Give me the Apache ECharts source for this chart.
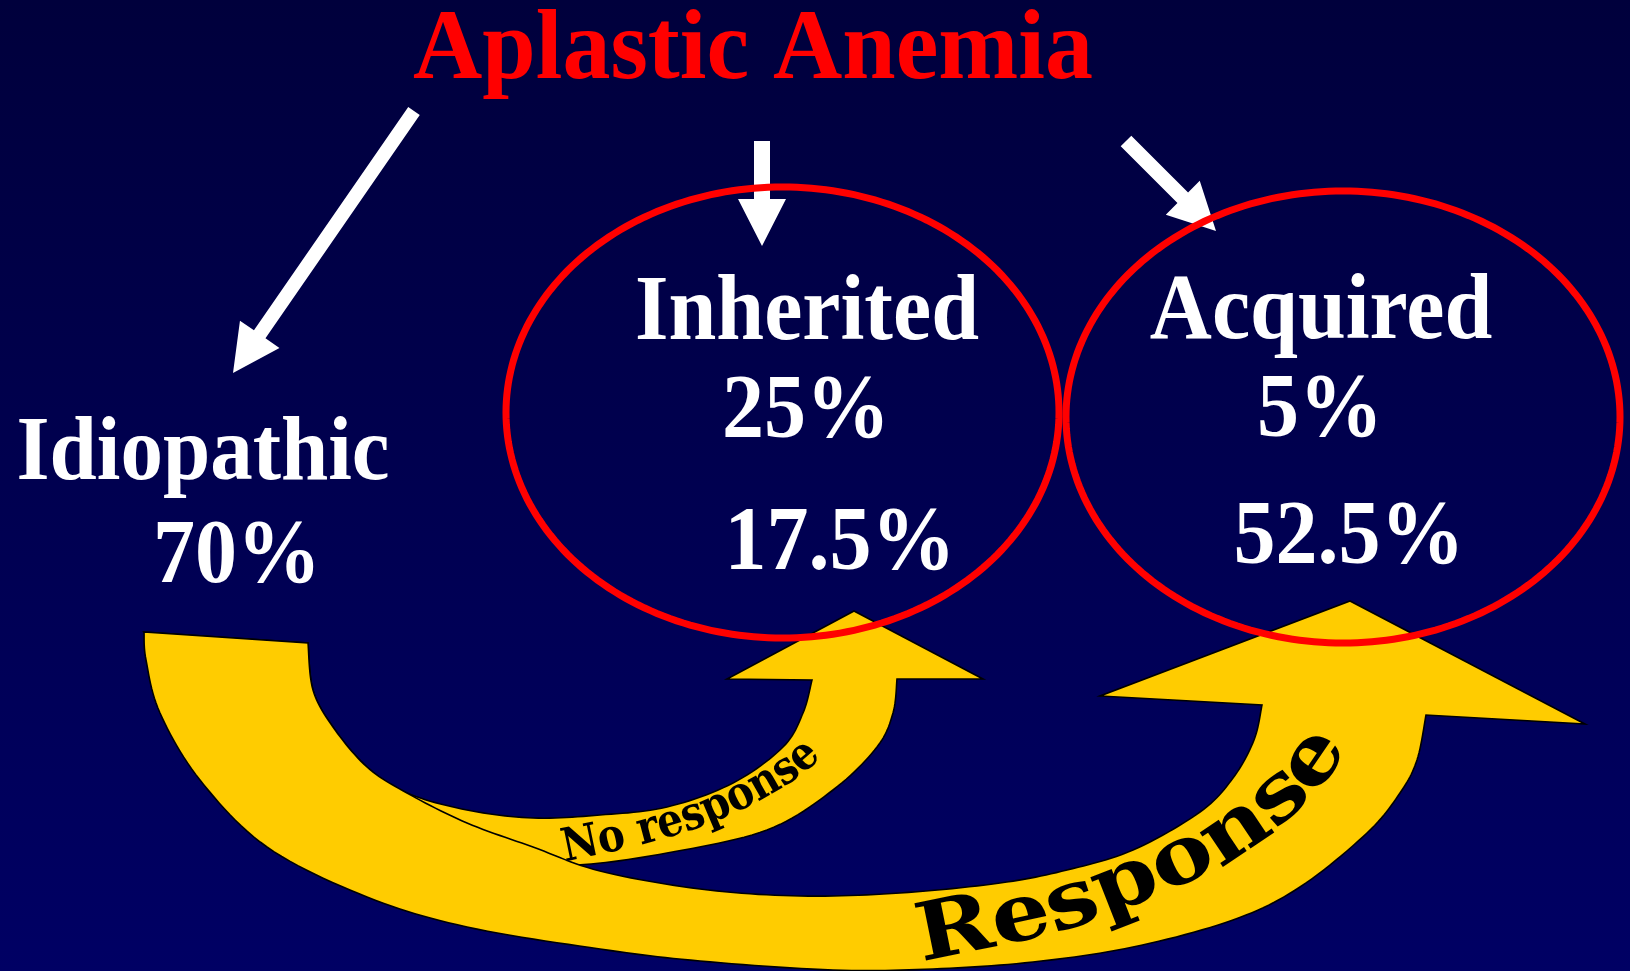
<!DOCTYPE html>
<html>
<head>
<meta charset="utf-8">
<script src="https://cdn.jsdelivr.net/npm/echarts@6/dist/echarts.min.js"></script>
<style>
html,body{margin:0;padding:0;background:#000050;}
#chart{width:1630px;height:971px;}
</style>
</head>
<body>
<div id="chart"></div>
<script>
// ---- data ----
const titleText = 'Aplastic Anemia';
const categories = ['Idiopathic', 'Inherited', 'Acquired'];
const categoryShares = [70, 25, 5];
const outcomeLabels = ['No response', 'Response'];
const outcomeShares = [17.5, 52.5];

// ---- helpers ----
const SERIF = '"Liberation Serif","Times New Roman",serif';
const ARC_FONT = '"DejaVu Serif",serif';
const MID = 0.255; // canvas "middle" offset above the alphabetic baseline (em)
function fmt(p){ return p + '%'; }
function crSample(pts, n){
  const out = [];
  for (let i = 0; i < pts.length - 1; i++) {
    const p0 = pts[Math.max(i - 1, 0)], p1 = pts[i], p2 = pts[i + 1], p3 = pts[Math.min(i + 2, pts.length - 1)];
    const c1 = [p1[0] + (p2[0] - p0[0]) / 6, p1[1] + (p2[1] - p0[1]) / 6];
    const c2 = [p2[0] - (p3[0] - p1[0]) / 6, p2[1] - (p3[1] - p1[1]) / 6];
    for (let k = 0; k < n; k++) {
      const t = k / n, u = 1 - t;
      out.push([
        u*u*u*p1[0] + 3*u*u*t*c1[0] + 3*u*t*t*c2[0] + t*t*t*p2[0],
        u*u*u*p1[1] + 3*u*u*t*c1[1] + 3*u*t*t*c2[1] + t*t*t*p2[1]
      ]);
    }
  }
  out.push(pts[pts.length - 1]);
  return out;
}
function ellipsePts(cx, cy, rx, ry){
  const out = [];
  for (let i = 0; i < 240; i++) { const a = i / 240 * Math.PI * 2; out.push([cx + rx * Math.cos(a), cy + ry * Math.sin(a)]); }
  return out;
}
const measureCtx = document.createElement('canvas').getContext('2d');
function textOnCurve(text, basePts, font, fontSize, fill){
  const s = crSample(basePts, 30);
  const cum = [0];
  for (let i = 1; i < s.length; i++) cum.push(cum[i-1] + Math.hypot(s[i][0]-s[i-1][0], s[i][1]-s[i-1][1]));
  const total = cum[cum.length - 1];
  measureCtx.font = font;
  const chars = text.split('');
  const widths = chars.map(c => measureCtx.measureText(c).width);
  const natural = widths.reduce((a, b) => a + b, 0);
  const k = total / natural;
  const els = [];
  let acc = 0;
  chars.forEach((ch, i) => {
    const sc = (acc + widths[i] / 2) * k;
    acc += widths[i];
    let j = 1; while (j < cum.length - 1 && cum[j] < sc) j++;
    const a = s[j-1], b = s[j];
    const f = (sc - cum[j-1]) / Math.max(cum[j] - cum[j-1], 1e-6);
    const x = a[0] + (b[0]-a[0]) * f, y = a[1] + (b[1]-a[1]) * f;
    const ang = Math.atan2(b[1]-a[1], b[0]-a[0]);
    if (ch === ' ') return;
    els.push({
      type: 'text', x: x, y: y, rotation: -ang, scaleX: k, z: 20,
      style: { text: ch, font: font, fill: fill, align: 'center', verticalAlign: 'middle', y: -0.27 * fontSize }
    });
  });
  return els;
}
function arrowPoly(x1, y1, x2, y2, sw, hl, hw){
  const L = Math.hypot(x2-x1, y2-y1), ux = (x2-x1)/L, uy = (y2-y1)/L, nx = -uy, ny = ux;
  const bx = x2 - ux*hl, by = y2 - uy*hl;
  return [
    [x1 + nx*sw/2, y1 + ny*sw/2], [bx + nx*sw/2, by + ny*sw/2], [bx + nx*hw/2, by + ny*hw/2],
    [x2, y2],
    [bx - nx*hw/2, by - ny*hw/2], [bx - nx*sw/2, by - ny*sw/2], [x1 - nx*sw/2, y1 - ny*sw/2]
  ];
}
function centeredText(str, cx, baseline, fs, fill, sy){
  return {
    type: 'text', x: cx, y: baseline, scaleY: sy || 1.08, z: 30,
    style: { text: str, font: 'bold ' + fs + 'px ' + SERIF, fill: fill, align: 'center', verticalAlign: 'middle', y: -MID * fs }
  };
}

// ---- geometry of the yellow arrows ----
const tailOuter = [144,632];
const bigInner = [[308,643],[313,690],[333,727],[367,767],[407,793],[467,823],[533,847],[600,871],[700,889],[800,896],[900,893],[1000,883],[1067,870],[1133,850],[1200,812],[1233,778],[1254,740],[1262,705]];
const bigHead = [[1100,696],[1350,601],[1585,724]];
const bigOuter = [[1426,715],[1417,760],[1400,793],[1367,833],[1300,887],[1233,920],[1133,947],[1033,962],[933,969],[833,970],[700,961],[600,949],[467,927],[367,897],[267,847],[200,780],[160,713],[146,660],[144,632]];
const smallInner = [[308,643],[313,690],[333,727],[367,767],[407,793],[467,810],[533,818],[600,815],[667,807],[733,783],[783,747],[803,713],[812,680]];
const smallHead = [[727,679],[854,611],[983,679]];
const smallOuter = [[897,679],[893,713],[877,747],[833,790],[767,830],[667,853],[577,865],[500,862],[400,835],[300,785],[220,725],[175,665],[144,632]];

function arrowOutline(inner, head, outer){
  return [tailOuter].concat(crSample(inner, 12), head, crSample(outer, 12));
}

const yellow = '#FFCC00';
const elements = [];
elements.push({ type: 'polygon', z: 5, shape: { points: arrowOutline(smallInner, smallHead, smallOuter) }, style: { fill: yellow, stroke: '#000', lineWidth: 1.6 } });
elements.push({ type: 'polygon', z: 6, shape: { points: arrowOutline(bigInner, bigHead, bigOuter) }, style: { fill: yellow, stroke: '#000', lineWidth: 1.6 } });

// white arrows from the title to each category
[[414,111,233,373,14],[762,141,762,246,16],[1126,141,1216,231,15]].forEach(a => {
  elements.push({ type: 'polygon', z: 8, shape: { points: arrowPoly(a[0], a[1], a[2], a[3], a[4], 47, 48) }, style: { fill: '#FFFFFF' } });
});

// red ellipses
elements.push({ type: 'polygon', z: 10, shape: { points: ellipsePts(782.5, 412.5, 276.5, 225.5) }, style: { fill: 'transparent', stroke: '#FF0000', lineWidth: 7 } });
elements.push({ type: 'polygon', z: 10, shape: { points: ellipsePts(1343, 417, 277, 226) }, style: { fill: 'transparent', stroke: '#FF0000', lineWidth: 7 } });

// texts
elements.push(centeredText(titleText, 753, 78, 96, '#FF0000', 1.04));
elements.push(centeredText(categories[0], 203, 479, 85, '#FFFFFF'));
elements.push(centeredText(fmt(categoryShares[0]), 237, 582, 84, '#FFFFFF'));
elements.push(centeredText(categories[1], 807, 339, 86, '#FFFFFF'));
elements.push(centeredText(fmt(categoryShares[1]), 806, 437, 84, '#FFFFFF'));
elements.push(centeredText(fmt(outcomeShares[0]), 840, 569, 84, '#FFFFFF'));
elements.push(centeredText(categories[2], 1321, 338, 86, '#FFFFFF'));
elements.push(centeredText(fmt(categoryShares[2]), 1320, 436, 84, '#FFFFFF'));
elements.push(centeredText(fmt(outcomeShares[1]), 1349, 563, 84, '#FFFFFF'));

// curved labels on the yellow arrows
const noRespBase = [[565,862],[612,852],[657,841],[702,827],[742,810],[776,792],[803,774],[822,758]];
const respBase = [[922,962],[1000,946],[1067,930],[1133,906],[1190,882],[1245,853],[1290,818],[1325,783],[1348,748]];
textOnCurve(outcomeLabels[0], noRespBase, 'bold 46px ' + ARC_FONT, 46, '#000').forEach(e => elements.push(e));
textOnCurve(outcomeLabels[1], respBase, 'bold 80px ' + ARC_FONT, 80, '#000').forEach(e => elements.push(e));

const chart = echarts.init(document.getElementById('chart'), null, { renderer: 'canvas' });
chart.setOption({
  backgroundColor: { type: 'linear', x: 0, y: 0, x2: 0, y2: 1, colorStops: [{ offset: 0, color: '#00003c' }, { offset: 1, color: '#000064' }] },
  animation: false,
  graphic: { elements: elements }
});
</script>
</body>
</html>
